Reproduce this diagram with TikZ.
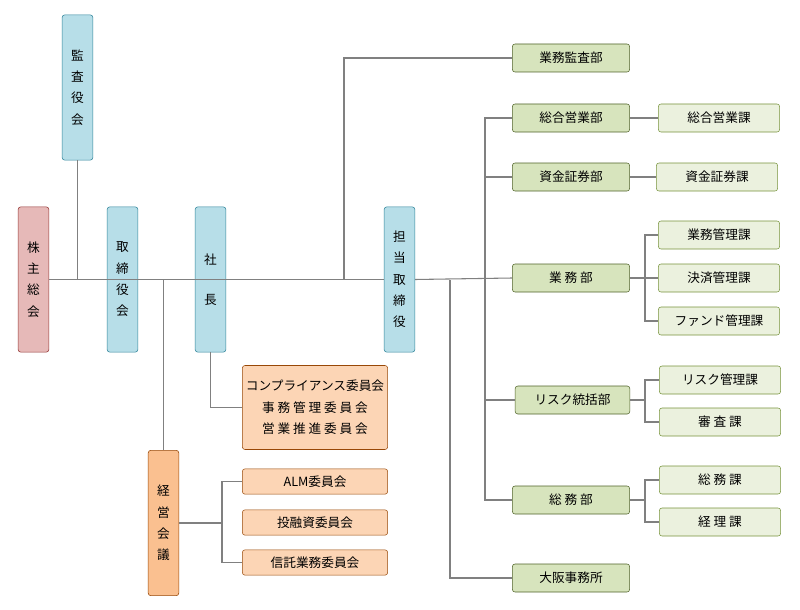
\documentclass[tikz,border=0pt]{standalone}
\usepackage{fontspec}
\setmainfont{Noto Sans CJK JP}
\tikzset{
  box/.style={draw, rounded corners=2pt, inner sep=1pt, align=center,
    font=\fontsize{9.5}{16}\selectfont},
  vbox/.style={box, minimum width=23pt, minimum height=109pt},
  hbox/.style={box, minimum width=88pt, minimum height=21pt},
  sbox/.style={box, minimum width=91pt, minimum height=21pt},
  blue/.style={fill=cyan!20!blue!8!white, fill={rgb,255:red,183;green,222;blue,232}, draw={rgb,255:red,49;green,133;blue,155}},
  pink/.style={fill={rgb,255:red,230;green,185;blue,184}, draw={rgb,255:red,149;green,55;blue,53}},
  dept/.style={hbox, fill={rgb,255:red,215;green,228;blue,189}, draw={rgb,255:red,79;green,98;blue,40}},
  sect/.style={sbox, fill={rgb,255:red,235;green,241;blue,222}, draw={rgb,255:red,119;green,147;blue,60}},
  orng/.style={fill={rgb,255:red,250;green,192;blue,144}, draw={rgb,255:red,152;green,72;blue,7}},
  comm/.style={box, minimum width=109pt, minimum height=19pt, fill={rgb,255:red,252;green,213;blue,181}, draw={rgb,255:red,152;green,72;blue,7}},
  link/.style={draw={rgb,255:red,128;green,128;blue,128}, line width=0.8pt}
}
\begin{document}
\begin{tikzpicture}[x=0.75pt, y=-0.75pt]
    \useasboundingbox (0,0) rectangle (800,610);

    % left column
    \node[vbox, pink] (kabu) at (33.5,279.5) {株\\主\\総\\会};
    \node[vbox, blue] (kansa) at (77.5,87.5) {監\\査\\役\\会};
    \node[vbox, blue] (torishimari) at (122.5,279.5) {取\\締\\役\\会};
    \node[vbox, blue] (shacho) at (210.5,279.5) {社\\[14pt]長};
    \node[vbox, blue] (tantou) at (399.5,279.5) {担\\当\\取\\締\\役};
    \node[vbox, orng] (keiei) at (163.5,523) {経\\営\\会\\議};

    % committees
    \node[comm, minimum height=63pt] (comp) at (315,407.5) {コンプライアンス委員会\\事 務 管 理 委 員 会\\営 業 推 進 委 員 会};
    \node[comm] (alm) at (315,481.5) {ALM委員会};
    \node[comm] (toushi) at (315,522.5) {投融資委員会};
    \node[comm] (shintaku) at (315,562.5) {信託業務委員会};

    % departments
    \node[dept] (gkansa) at (571,58) {業務監査部};
    \node[dept] (sogo) at (571,118) {総合営業部};
    \node[dept] (shikin) at (571,177) {資金証券部};
    \node[dept] (gyomu) at (571,278) {業 務 部};
    \node[dept, minimum width=86pt] (risk) at (572.5,400) {リスク統括部};
    \node[dept] (somu) at (571,500) {総 務 部};
    \node[dept] (osaka) at (571,578) {大阪事務所};

    % sections
    \node[sect] (sogok) at (719,118) {総合営業課};
    \node[sect] (shikink) at (717,177) {資金証券課};
    \node[sect] (kanri) at (719,235) {業務管理課};
    \node[sect] (kessai) at (719,278) {決済管理課};
    \node[sect] (fund) at (719,321) {ファンド管理課};
    \node[sect] (riskk) at (720,380) {リスク管理課};
    \node[sect] (shinsa) at (720,422) {審 査 課};
    \node[sect] (somuk) at (720,480) {総 務 課};
    \node[sect] (keiri) at (720,522) {経 理 課};

    % junction points
    \coordinate (jkansa) at (344,279.5);
    \coordinate (josaka) at (450,279.5);
    \coordinate (trunk) at (485,0);
    \coordinate (strunk) at (645,0);
    \coordinate (ctrunk) at (222,0);

    % connectors
    \draw[link] (kabu.east) -- (tantou.west);
    \draw[link] (kansa.south) -- (kansa.south |- kabu.east);
    \draw[link] (keiei.north) -- (keiei.north |- kabu.east);
    \draw[link] (shacho.south) |- (comp.west);
    \draw[link] (jkansa) |- (gkansa.west);
    \draw[link] (tantou.east) -- (gyomu.west);
    \draw[link] (josaka) |- (osaka.west);
    \draw[link] (sogo.west) -| (trunk |- somu.west) -- (somu.west);
    \draw[link] (shikin.west) -- (trunk |- shikin.west);
    \draw[link] (risk.west) -- (trunk |- risk.west);
    \draw[link] (sogo.east) -- (sogok.west);
    \draw[link] (shikin.east) -- (shikink.west);
    \draw[link] (gyomu.east) -- (kessai.west);
    \draw[link] (kanri.west) -| (strunk |- fund.west) -- (fund.west);
    \draw[link] (riskk.west) -| (strunk |- shinsa.west) -- (shinsa.west);
    \draw[link] (risk.east) -- (strunk |- risk.east);
    \draw[link] (somuk.west) -| (strunk |- keiri.west) -- (keiri.west);
    \draw[link] (somu.east) -- (strunk |- somu.east);
    \draw[link] (keiei.east) -- (ctrunk |- keiei.east);
    \draw[link] (alm.west) -| (ctrunk |- shintaku.west) -- (shintaku.west);
\end{tikzpicture}
\end{document}
